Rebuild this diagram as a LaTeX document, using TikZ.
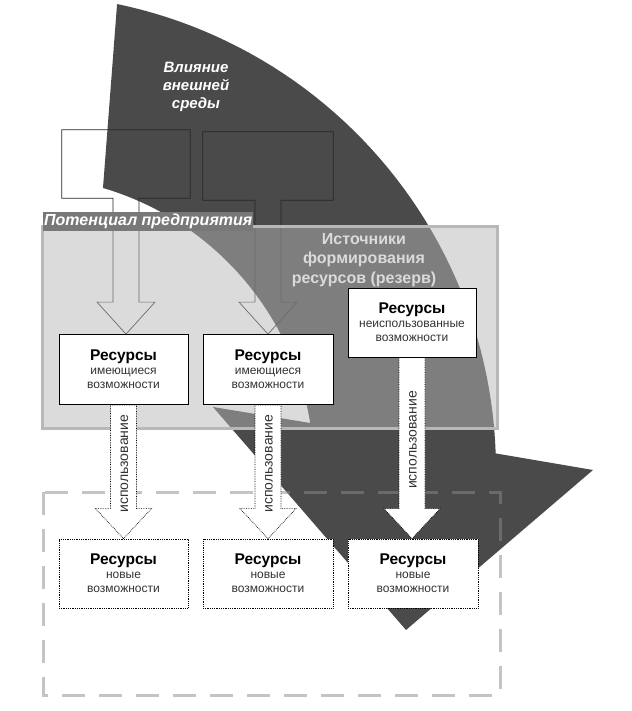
\documentclass[tikz,border=0pt]{standalone}
\usepackage{fontspec}
\setmainfont{Liberation Sans}
\usetikzlibrary{calc}

\definecolor{influence}{RGB}{75,74,74}
\definecolor{overlay}{gray}{0.71}
\definecolor{framegray}{gray}{0.72}
\definecolor{labelgray}{gray}{0.47}
\definecolor{dashgray}{gray}{0.54}
\definecolor{subtext}{gray}{0.2}

\pgfdeclarelayer{back}
\pgfdeclarelayer{mid}
\pgfsetlayers{back,mid,main}

\newcommand{\restitle}{\fontsize{15.5}{16}\selectfont\bfseries\color{black}}
\newcommand{\ressub}{\fontsize{12}{14}\selectfont\color{subtext}}

\tikzset{
  resbox/.style={draw, fill=white, line width=0.8pt, align=center, font=\ressub, inner sep=0pt},
  newbox/.style={resbox, densely dotted},
  srcbox/.style={minimum height=68pt, inner sep=0pt},
  inarrow/.style={draw=black!85, line width=0.7pt},
  usearrow/.style={draw=black, fill=white, densely dotted, line width=0.7pt},
  usetext/.style={rotate=90, font=\fontsize{14}{16}\selectfont, text=subtext, inner sep=0pt}
}

\begin{document}
\begin{tikzpicture}[x=1pt, y=-1pt]

    \useasboundingbox (0,0) rectangle (631,711);

    % boxes
    \node[srcbox, minimum width=128pt] (srcA) at (126,164) {};
    \node[srcbox, minimum width=130pt] (srcB) at (268,166) {};

    \node[resbox, minimum width=129pt, minimum height=70pt] (resA) at (123.5,369.5) {{\restitle Ресурсы}\\имеющиеся\\возможности};
    \node[resbox, minimum width=130pt, minimum height=70pt] (resB) at (268,369.5) {{\restitle Ресурсы}\\имеющиеся\\возможности};
    \node[resbox, minimum width=128pt, minimum height=69pt] (resC) at (412,322.5) {{\restitle Ресурсы}\\неиспользованные\\возможности};

    \node[newbox, minimum width=129pt, minimum height=69pt] (newA) at (123.5,573.5) {{\restitle Ресурсы}\\новые\\возможности};
    \node[newbox, minimum width=130pt, minimum height=69pt] (newB) at (268,573.5) {{\restitle Ресурсы}\\новые\\возможности};
    \node[newbox, minimum width=130pt, minimum height=69pt] (newC) at (413,573.5) {{\restitle Ресурсы}\\новые\\возможности};

    \begin{pgfonlayer}{back}
    % big curved arrow
    \fill[influence] (117,5)
        -- plot[domain=-78.2:-2.0, samples=50] ({20+476*cos(\x)}, {470+476*sin(\x)})
        -- (593,470) -- (406,630) -- (213,407)
        -- plot[domain=-9.2:-73.6, samples=50] ({20+294*cos(\x)}, {470+294*sin(\x)})
        -- cycle;
    \node[font=\fontsize{15}{18}\selectfont\bfseries\itshape, text=white, align=center] (outer) at (196,87) {Влияние\\внешней\\среды};

    \foreach \src/\dst in {srcA/resA, srcB/resB}
        \draw[inarrow] let \p1=(\src.south), \p2=(\dst.north) in
            (\src.north west) -- (\src.north east) -- (\src.south east)
            -- ({\x1+13pt},{\y1}) -- ({\x1+13pt},{\y2+32pt}) -- ({\x1+29pt},{\y2+32pt}) -- (\x1,\y2)
            -- ({\x1-29pt},{\y2+32pt}) -- ({\x1-13pt},{\y2+32pt}) -- ({\x1-13pt},{\y1})
            -- (\src.south west) -- cycle;

    \node[font=\fontsize{16}{19.5}\selectfont\bfseries, text=white, align=center] (sources) at (364,260) {Источники\\формирования\\ресурсов (резерв)};

    % potential of the enterprise
    \draw[fill=overlay, fill opacity=0.49, draw=framegray, line width=3pt] (42,226) rectangle (497,428);
    \node[anchor=north west, fill=labelgray, text=white, font=\fontsize{16}{18}\selectfont\bfseries\itshape,
          minimum height=19pt, minimum width=210pt, inner sep=1pt] (potential) at (43,212) {Потенциал предприятия};

    \draw[draw=dashgray, draw opacity=0.5, line width=3pt, dash pattern=on 23pt off 14pt] (43,492) rectangle (500,695);
    \end{pgfonlayer}

    \begin{pgfonlayer}{mid}
    \foreach \src/\dst in {resA/newA, resB/newB, resC/newC}
        \draw[usearrow] let \p1=(\src.south), \p2=(\dst.north) in
            ({\x1-13pt},{\y1}) -- ({\x1+13pt},{\y1}) -- ({\x1+13pt},{\y2+30pt}) -- ({\x1+28pt},{\y2+30pt})
            -- (\x1,\y2) -- ({\x1-28pt},{\y2+30pt}) -- ({\x1-13pt},{\y2+30pt}) -- cycle
            node[usetext] (use\src) at ({\x1+1pt},{(\y1+\y2)/2+8pt}) {использование};
    \end{pgfonlayer}

\end{tikzpicture}
\end{document}
